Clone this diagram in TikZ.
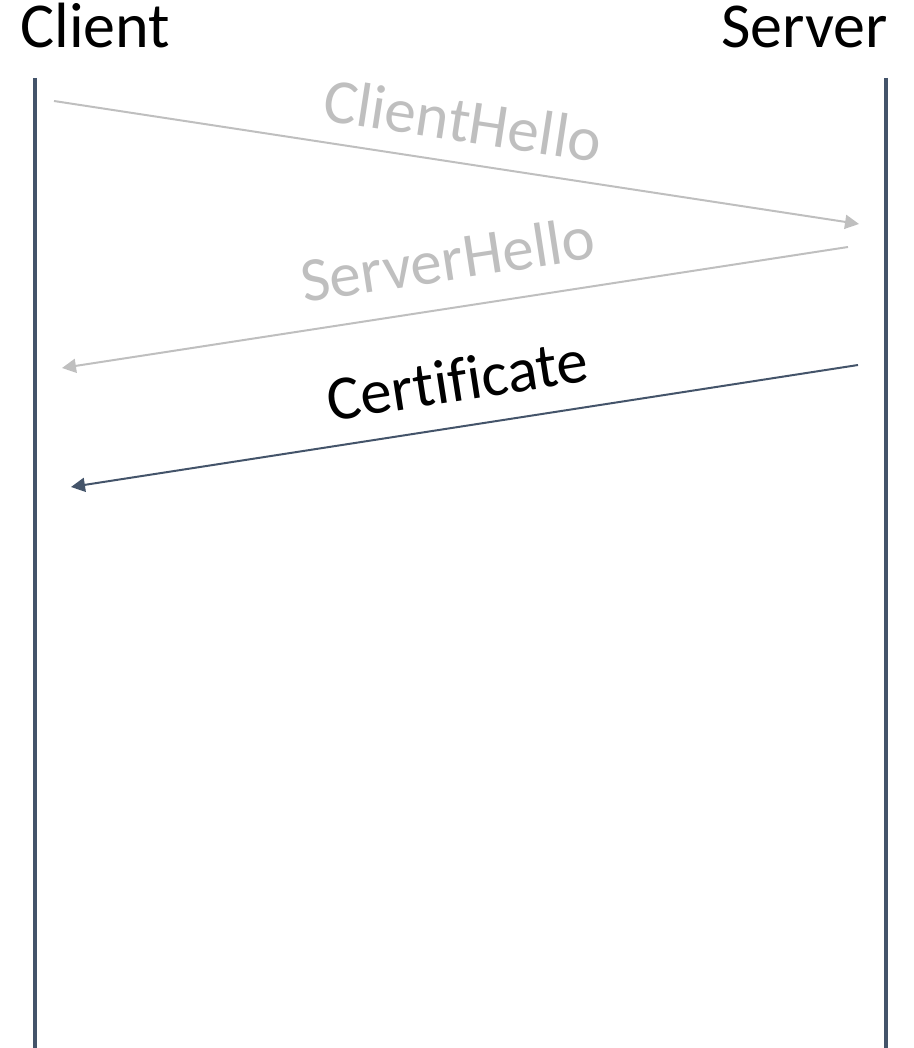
\documentclass[tikz,border=0pt]{standalone}
\usepackage{fontspec}
\setmainfont{Carlito}[Ligatures=NoCommon]
\usepackage{xcolor}
\usetikzlibrary{arrows.meta,positioning}

\definecolor{slate}{HTML}{44546A}
\definecolor{faded}{HTML}{BFBFBF}

\begin{document}
\begin{tikzpicture}[
    x=0.5pt, y=-0.5pt,
    party/.style={font=\fontsize{32}{38}\selectfont, inner sep=0pt},
    msg/.style={font=\fontsize{31.5}{37}\selectfont, sloped, inner sep=0pt},
    life/.style={slate, line width=2pt},
    arr/.style={-{Triangle[length=7pt, width=7pt]}, line width=1pt}
]
    \useasboundingbox (0,0) rectangle (914,1048);

    % Participants
    \node[party, anchor=base west] (client) at (20,48) {Client};
    \node[party, anchor=base east] (server) at (888,48) {Server};

    % Lifelines
    \coordinate (ctop) at (35,78);
    \coordinate (cbot) at (35,1048);
    \coordinate (stop) at (886,78);
    \coordinate (sbot) at (886,1048);
    \draw[life] (ctop) -- (cbot);
    \draw[life] (stop) -- (sbot);

    % Message ends
    \coordinate (m1a) at (54,101);
    \coordinate (m1b) at (859,224);
    \coordinate (m2a) at (848,247);
    \coordinate (m2b) at (62,368);
    \coordinate (m3a) at (858,365);
    \coordinate (m3b) at (71,487);

    % Messages
    \draw[arr, faded] (m1a) -- (m1b)
        node[msg, pos=0.5, above=10pt, text=faded] (hello1) {ClientHello};
    \draw[arr, faded] (m2a) -- (m2b)
        node[msg, pos=0.5, above=13pt, text=faded] (hello2) {ServerHello};
    \draw[arr, slate] (m3a) -- (m3b)
        node[msg, pos=0.5, above=12pt, text=black] (cert) {Certificate};
\end{tikzpicture}
\end{document}
